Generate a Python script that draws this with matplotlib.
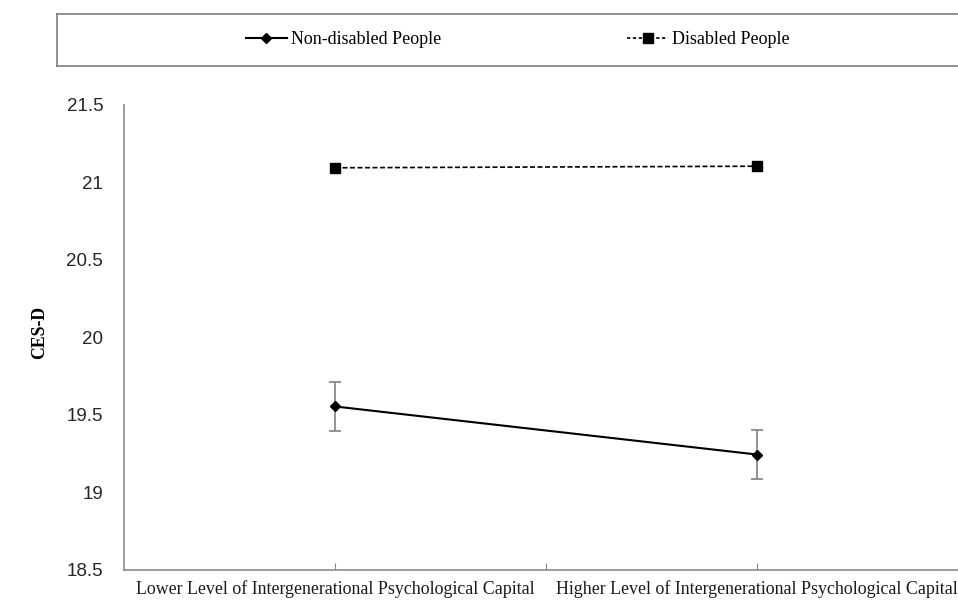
import numpy as np
import matplotlib
matplotlib.use('Agg')
import matplotlib.pyplot as plt
from matplotlib.lines import Line2D

# Data
categories = ['Lower Level of Intergenerational Psychological Capital',
              'Higher Level of Intergenerational Psychological Capital']
cat_pos = [1, 3]
non_disabled = [19.555, 19.245]
non_disabled_err = [0.157, 0.155]
disabled = [21.095, 21.105]
y_ticks = [18.5, 19, 19.5, 20, 20.5, 21, 21.5]

W, H = 958, 600
fig = plt.figure(figsize=(W / 100, H / 100), dpi=100)

# Main plot area
left, right, top, bottom = 124, 968, 105, 570
ax = fig.add_axes([left / W, 1 - bottom / H, (right - left) / W, (bottom - top) / H])
ax.set_xlim(0, 4)
ax.set_ylim(18.5, 21.5)

ax.errorbar(cat_pos, non_disabled, yerr=non_disabled_err, color='black', lw=1.5,
            marker='D', markersize=5.5, ecolor='#808080', elinewidth=1.2,
            capsize=4, capthick=1.2, zorder=3)
ax.plot(cat_pos, disabled, color='black', lw=1.2, ls=(0, (3, 1.5)),
        marker='s', markersize=7, zorder=3)

for side in ['top', 'right']:
    ax.spines[side].set_visible(False)
for side in ['left', 'bottom']:
    ax.spines[side].set_color('#8c8c8c')
    ax.spines[side].set_linewidth(1.2)

ax.set_yticks(y_ticks)
ax.set_yticklabels([f'{v:g}' for v in y_ticks], fontfamily='Liberation Sans',
                   fontsize=13.5, color='#262626')
ax.tick_params(axis='y', length=0, pad=15)

ax.set_xticks([1, 2, 3], minor=False)
ax.set_xticklabels([categories[0], '', categories[1]], fontfamily='Liberation Serif',
                   fontsize=12.9, color='#1a1a1a')
ax.tick_params(axis='x', direction='in', length=5, color='#8c8c8c', pad=7)
# keep the right label inside the figure like the reference
ax.get_xticklabels()[0].set_x(0.97)

fig.text(40 / W, 1 - 332 / H, 'CES-D', rotation=90, ha='center', va='center',
         fontfamily='Liberation Serif', fontweight='bold', fontsize=12.8)

# Legend box
lax = fig.add_axes([57 / W, 1 - 66 / H, (980 - 57) / W, 52 / H])
lax.set_xticks([])
lax.set_yticks([])
for s in lax.spines.values():
    s.set_color('#7f7f7f')
    s.set_linewidth(1.2)

handles = [Line2D([], [], color='black', lw=1.5, marker='D', markersize=5.5),
           Line2D([], [], color='black', lw=1.2, ls=(0, (2, 1.5)), marker='s', markersize=7)]
lax.legend(handles, ['Non-disabled People', 'Disabled People'], ncol=2,
           loc='center', bbox_to_anchor=(0.499, 0.5), frameon=False,
           prop={'family': 'Liberation Serif', 'size': 13},
           handlelength=2.3, handletextpad=0.2, columnspacing=10.3)

fig.savefig('out.png', dpi=100)
